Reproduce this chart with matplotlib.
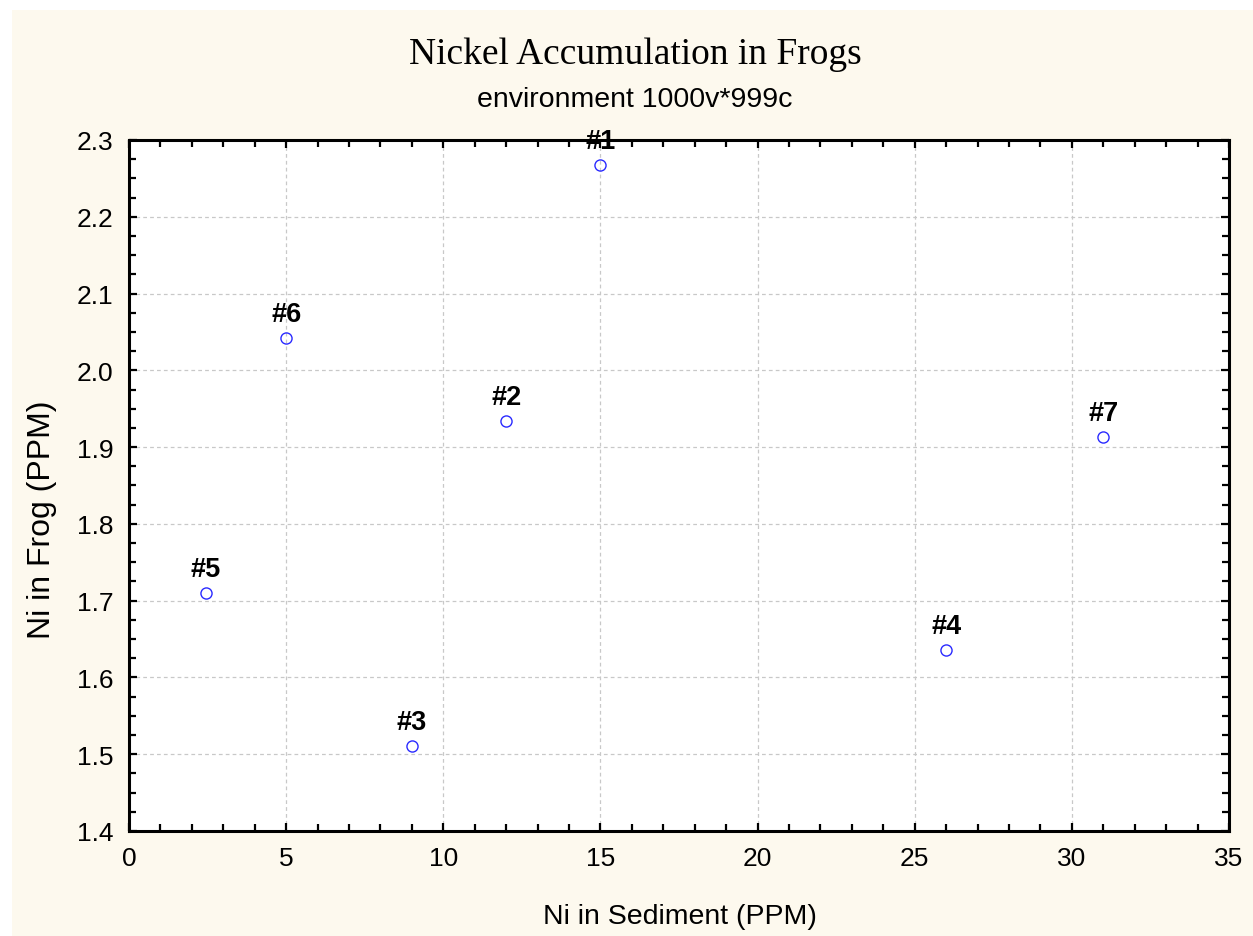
"""Scatter of nickel in frogs against nickel in the sediment, one labelled point per site."""
import matplotlib
matplotlib.use("Agg")
import matplotlib.pyplot as plt
from matplotlib.patches import Rectangle
from matplotlib.ticker import MultipleLocator

# site labels and measurements (PPM)
sites = ["#1", "#2", "#3", "#4", "#5", "#6", "#7"]
ni_sediment = [15.0, 12.0, 9.0, 26.0, 2.45, 5.0, 31.0]
ni_frog = [2.268, 1.934, 1.511, 1.636, 1.71, 2.042, 1.913]

W, H = 1253, 937
SANS = ["Liberation Sans", "DejaVu Sans"]
SERIF = ["Liberation Serif", "DejaVu Serif"]

fig = plt.figure(figsize=(W / 100, H / 100), dpi=100)
fig.patch.set_facecolor("white")
# cream page behind everything
fig.patches.append(Rectangle((12 / W, 0), 1 - 12 / W, 1 - 11 / H,
                             transform=fig.transFigure, facecolor="#fdf9ee",
                             edgecolor="none", zorder=-10))

ax = fig.add_axes([129 / W, 1 - 832 / H, (1229 - 129) / W, (832 - 141) / H])
ax.set_facecolor("white")

ax.plot(ni_sediment, ni_frog, linestyle="none", marker="o", markersize=8,
        markerfacecolor="none", markeredgecolor="#2a2aff", markeredgewidth=1.0,
        zorder=3)
for name, x, y in zip(sites, ni_sediment, ni_frog):
    ax.annotate(name, (x, y), xytext=(0, 12), textcoords="offset points",
                ha="center", va="baseline", fontsize=19.5, fontweight="bold",
                family=SANS, zorder=4, annotation_clip=False)

ax.set_xlim(0, 35)
ax.set_ylim(1.4, 2.3)
ax.xaxis.set_major_locator(MultipleLocator(5))
ax.xaxis.set_minor_locator(MultipleLocator(1))
ax.yaxis.set_major_locator(MultipleLocator(0.1))
ax.yaxis.set_minor_locator(MultipleLocator(0.025))
ax.yaxis.set_major_formatter(plt.FuncFormatter(lambda v, _: f"{v:.1f}"))

ax.tick_params(which="both", direction="in", top=True, right=True,
               color="black", width=1.6)
ax.tick_params(which="major", length=6)
ax.tick_params(which="minor", length=5)
ax.tick_params(axis="x", which="major", pad=11)
ax.tick_params(axis="y", which="major", pad=11)
for lab in ax.get_xticklabels() + ax.get_yticklabels():
    lab.set_fontsize(19)
    lab.set_family(SANS)

for sp in ax.spines.values():
    sp.set_linewidth(2.2)
    sp.set_color("black")

ax.grid(True, which="major", color="#c8c8c8", linestyle=(0, (3, 2.5)), linewidth=0.9)
ax.set_axisbelow(True)

fig.text(635 / W, 1 - 64 / H, "Nickel Accumulation in Frogs", ha="center",
         va="baseline", fontsize=27, family=SERIF)
fig.text(635 / W, 1 - 107 / H, "environment 1000v*999c", ha="center",
         va="baseline", fontsize=20.5, family=SANS)
fig.text(680 / W, 1 - 924 / H, "Ni in Sediment (PPM)", ha="center",
         va="baseline", fontsize=20.5, family=SANS)
fig.text(42 / W, 1 - 520 / H, "Ni in Frog (PPM)", ha="center", va="center",
         rotation=90, fontsize=23, family=SANS)

fig.savefig("out.png", dpi=100, facecolor=fig.get_facecolor())
